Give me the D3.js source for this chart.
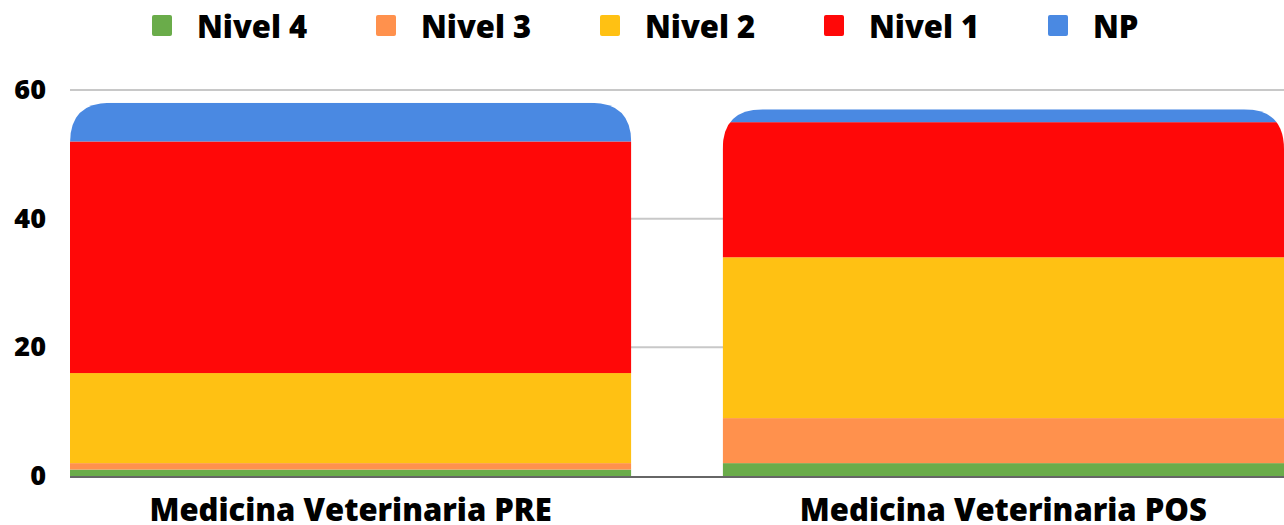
<!DOCTYPE html>
<html><head><meta charset="utf-8">
<script src="https://cdn.jsdelivr.net/npm/d3@7"></script>
<style>html,body{margin:0;padding:0;background:#fff;}svg{display:block;font-family:"Open Sans",sans-serif;}</style>
</head><body><svg id="c" width="1284" height="525"></svg>
<script>
const categories = ["Medicina Veterinaria PRE", "Medicina Veterinaria POS"];
const seriesNames = ["Nivel 4", "Nivel 3", "Nivel 2", "Nivel 1", "NP"];
const nivel4 = [1, 2];
const nivel3 = [1, 7];
const nivel2 = [14, 25];
const nivel1 = [36, 21];
const np = [6, 2];
const yTicks = [0, 20, 40, 60];
const colors = ["#6aac4a", "#ff914d", "#ffc113", "#ff0808", "#4a89e2"];

const svg = d3.select("#c");
const W = 1284, H = 525;
const m = {l: 70, r: 0, t: 90, b: 49};
const rows = categories.map((c, i) => ({cat: c, "Nivel 4": nivel4[i], "Nivel 3": nivel3[i], "Nivel 2": nivel2[i], "Nivel 1": nivel1[i], "NP": np[i]}));
const stack = d3.stack().keys(seriesNames)(rows);

const x = d3.scaleBand().domain(categories).range([m.l, W - m.r]).paddingInner(0.14).paddingOuter(0);
const y = d3.scaleLinear().domain([0, 60]).range([H - m.b, m.t]);

// grid
svg.append("g").selectAll("line").data(yTicks.filter(d => d > 0)).join("line")
  .attr("x1", m.l).attr("x2", W).attr("y1", d => y(d)).attr("y2", d => y(d))
  .attr("stroke", "#c8c8c8").attr("stroke-width", 2);

// y labels
svg.append("g").selectAll("text").data(yTicks).join("text")
  .attr("x", 46).attr("y", d => y(d) + 9).attr("text-anchor", "end")
  .attr("font-size", 27).attr("font-weight", 800).attr("fill", "#000").text(d => d);

// bars with rounded tops
const R = 40;
const defs = svg.append("defs");
categories.forEach((c, i) => {
  const top = y(d3.sum(seriesNames, k => rows[i][k]));
  const x0 = x(c), x1 = x(c) + x.bandwidth(), yb = y(0);
  const p = `M${x0},${yb}L${x0},${top + R}Q${x0},${top} ${x0 + R},${top}L${x1 - R},${top}Q${x1},${top} ${x1},${top + R}L${x1},${yb}Z`;
  defs.append("clipPath").attr("id", "clip" + i).append("path").attr("d", p);
});

const bars = svg.append("g");
categories.forEach((c, i) => {
  const g = bars.append("g").attr("clip-path", `url(#clip${i})`);
  stack.forEach((s, k) => {
    const d = s[i];
    g.append("rect").attr("x", x(c)).attr("width", x.bandwidth())
      .attr("y", y(d[1])).attr("height", y(d[0]) - y(d[1]))
      .attr("fill", colors[k]);
  });
});

// baseline
svg.append("line").attr("x1", m.l).attr("x2", W).attr("y1", y(0) + 1).attr("y2", y(0) + 1)
  .attr("stroke", "#666").attr("stroke-width", 2);

// x labels
svg.append("g").selectAll("text").data(categories).join("text")
  .attr("x", d => x(d) + x.bandwidth() / 2).attr("y", 521)
  .attr("text-anchor", "middle").attr("font-size", 31).attr("font-weight", 800).attr("fill", "#000").text(d => d);

// legend
const lg = svg.append("g");
seriesNames.forEach((n, k) => {
  const lx = 152 + k * 224;
  lg.append("rect").attr("x", lx).attr("y", 15).attr("width", 20).attr("height", 21).attr("rx", 2).attr("fill", colors[k]);
  lg.append("text").attr("x", lx + 45).attr("y", 38)
    .attr("font-size", 31).attr("font-weight", 800).attr("fill", "#000").text(n);
});
</script></body></html>
